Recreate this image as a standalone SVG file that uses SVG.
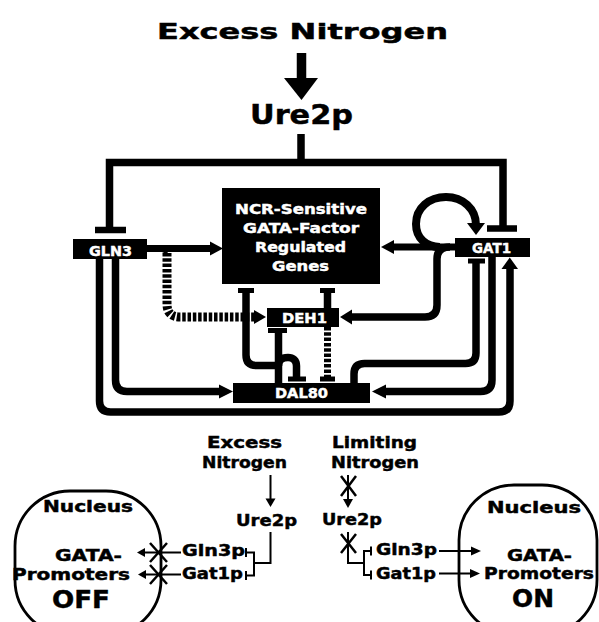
<svg xmlns="http://www.w3.org/2000/svg" width="599" height="622" viewBox="0 0 599 622">
<style>
text{font-family:"DejaVu Sans","Liberation Sans",sans-serif;font-weight:bold;text-anchor:middle;fill:#000;stroke:#000;stroke-width:0.45}
.w{fill:#fff;stroke:#fff;font-size:14px}
.box{fill:#000}
.thick{fill:none;stroke:#000;stroke-width:7.5;stroke-linejoin:round}
.sq{stroke-linejoin:miter}
.bar{fill:none;stroke:#000;stroke-width:5}
.hatch{fill:none;stroke:#000;stroke-width:9;stroke-dasharray:3.5 1.8}
.thin{fill:none;stroke:#000;stroke-width:2}
.cross{fill:none;stroke:#000;stroke-width:2.5}
.head{fill:#000}
.nuc{fill:none;stroke:#000;stroke-width:2.8}
.t15{font-size:15px}
.t16{font-size:15.5px}
.t25{font-size:25px}
</style>
<rect width="599" height="622" fill="#fff"/>

<g id="connectors">
  <!-- top -->
  <path class="thick" d="M301.5 53V80" style="stroke-width:9.5"/>
  <polygon class="head" points="284,78 318,78 301.5,100"/>
  <path class="thick sq" d="M301 134V162.5M109.5 229V162.5H503V228"/>
  <path class="bar" style="stroke-width:6.5" d="M95 230H126M487 228.5H517"/>
  <!-- GLN3 -> NCR -->
  <path class="thick" style="stroke-width:7" d="M147 248.5H212"/>
  <polygon class="head" points="210,241.5 223,248.5 210,255.5"/>
  <!-- GAT1 -> NCR -->
  <path class="thick" style="stroke-width:7" d="M455 247H393"/>
  <polygon class="head" points="394,240 381,247 394,254"/>
  <!-- GAT1 self loop -->
  <path class="thick" style="stroke-width:8" d="M440 247C426 247 416 238 416 224C416 208 429 197 446 197C463 197 476 209 476 225"/>
  <polygon class="head" points="467,223 485,223 476,235"/>
  <!-- GAT1 -> DEH1 -->
  <path class="thick" d="M450 247Q437 247 437 259V305Q437 317 425 317H351"/>
  <polygon class="head" points="352,309.5 340,317 352,324.5"/>
  <!-- GLN3 hatched -> DEH1 -->
  <path class="thick" style="stroke-width:3" d="M158 250Q167 250 167 256"/>
  <path class="hatch" d="M167 253V304Q167 317 180 317H255"/>
  <polygon class="head" points="254,310 266,317 254,324"/>
  <!-- DAL80 -| NCR genes -->
  <path class="thick" d="M246 291V355Q246 365.5 256.5 365.5H279"/>
  <path class="bar" d="M238 290.5H254"/>
  <!-- DAL80 -| DEH1 -->
  <path class="thick" d="M278.5 331V384"/>
  <path class="bar" d="M268 330.5H287"/>
  <!-- DEH1 -| DAL80 (hump) -->
  <path class="thick" d="M278.5 366C278.5 359 283 357.5 288 357.5C293 357.5 296.5 360 296.5 366V378"/>
  <path class="bar" d="M288 379H306"/>
  <!-- DEH1 -| NCR genes -->
  <path class="thick" d="M327.5 291V308"/>
  <path class="bar" d="M320 290.5H335"/>
  <!-- DEH1 hatched -| DAL80 -->
  <path class="hatch" style="stroke-width:7" d="M327.5 327V377"/>
  <path class="bar" d="M320 379H335"/>
  <!-- DAL80 -| GAT1 -->
  <path class="thick" d="M354 384V374Q354 363.5 364.5 363.5H465.5Q476 363.5 476 353V262"/>
  <path class="bar" d="M468 261H485"/>
  <!-- GAT1 -> DAL80 -->
  <path class="thick" d="M492 257V380Q492 391.5 480.5 391.5H385"/>
  <polygon class="head" points="386,384.5 372,391.5 386,398.5"/>
  <!-- GLN3 -> DAL80 -->
  <path class="thick" d="M115.5 259V380Q115.5 391.5 127 391.5H220"/>
  <polygon class="head" points="219,384.5 233,391.5 219,398.5"/>
  <!-- GLN3 -> GAT1 -->
  <path class="thick" d="M99.5 259V401Q99.5 412 110.5 412H499Q510 412 510 401V268"/>
  <polygon class="head" points="501.5,269 518,269 509.75,257.5"/>

  <!-- bottom left -->
  <path class="thin" d="M270.5 475V500"/>
  <polygon class="head" points="265.5,498.5 275.5,498.5 270.5,507"/>
  <path class="thin" d="M270.5 532V563H254M246 552.5H254V575.5H246M246 548V557M246 571V580"/>
  <path class="thin" d="M181 552.5H143M181 574.5H144"/>
  <polygon class="head" points="145,548 137,552.5 145,557"/>
  <polygon class="head" points="146,570 138,574.5 146,579"/>
  <path class="cross" d="M150 543L167 562M150 562L167 543M150 565L167 584M150 584L167 565"/>

  <!-- bottom right -->
  <path class="thin" d="M348 475V500"/>
  <polygon class="head" points="343,499 353,499 348,508"/>
  <path class="cross" d="M341 476L356 496M356 476L341 496"/>
  <path class="thin" d="M348 532V563H364M371 551H364V575H371M371 546.5V555.5M371 570.5V579.5"/>
  <path class="cross" d="M341 534L356 553M356 534L341 553"/>
  <path class="thin" d="M439 551H472M439 573.5H471"/>
  <polygon class="head" points="471,546.5 481,551 471,555.5"/>
  <polygon class="head" points="470,569 480,573.5 470,578"/>
</g>

<g id="excess-nitrogen">
  <text x="302.5" y="39" font-size="21" textLength="291" lengthAdjust="spacingAndGlyphs">Excess Nitrogen</text>
</g>
<g id="ure2p">
  <text x="301.5" y="124" font-size="27" textLength="103" lengthAdjust="spacingAndGlyphs">Ure2p</text>
</g>
<g id="ncr-genes">
  <rect class="box" x="222" y="188" width="158" height="96"/>
  <text class="w" x="301" y="213.5" textLength="132" lengthAdjust="spacingAndGlyphs">NCR-Sensitive</text>
  <text class="w" x="301" y="232.5" textLength="116" lengthAdjust="spacingAndGlyphs">GATA-Factor</text>
  <text class="w" x="300.5" y="251.7" textLength="91" lengthAdjust="spacingAndGlyphs">Regulated</text>
  <text class="w" x="300.5" y="270.5" textLength="57" lengthAdjust="spacingAndGlyphs">Genes</text>
</g>
<g id="gln3">
  <rect class="box" x="73" y="239" width="74" height="20"/>
  <text class="w" x="110.5" y="256" textLength="43" lengthAdjust="spacingAndGlyphs">GLN3</text>
</g>
<g id="gat1">
  <rect class="box" x="455" y="238" width="75" height="19"/>
  <text class="w" x="491.5" y="253" textLength="39" lengthAdjust="spacingAndGlyphs">GAT1</text>
</g>
<g id="deh1">
  <rect class="box" x="267" y="308" width="72" height="19"/>
  <text class="w" x="304.5" y="322.7" textLength="45" lengthAdjust="spacingAndGlyphs">DEH1</text>
</g>
<g id="dal80">
  <rect class="box" x="233" y="383" width="137" height="20"/>
  <text class="w" x="301.5" y="397.5" textLength="53" lengthAdjust="spacingAndGlyphs">DAL80</text>
</g>

<g id="excess-panel">
  <text class="t15" x="244.5" y="448" textLength="75" lengthAdjust="spacingAndGlyphs">Excess</text>
  <text class="t15" x="244.5" y="467.5" textLength="85" lengthAdjust="spacingAndGlyphs">Nitrogen</text>
  <text class="t15" x="266.5" y="526" textLength="61" lengthAdjust="spacingAndGlyphs">Ure2p</text>
  <text class="t15" x="213.5" y="556" textLength="63" lengthAdjust="spacingAndGlyphs">Gln3p</text>
  <text class="t15" x="212.5" y="579.3" textLength="61" lengthAdjust="spacingAndGlyphs">Gat1p</text>
</g>
<g id="nucleus-off">
  <rect class="nuc" x="15" y="491" width="146" height="144" rx="55"/>
  <text class="t16" x="88" y="512" textLength="90" lengthAdjust="spacingAndGlyphs">Nucleus</text>
  <text class="t16" x="88.5" y="561" textLength="67" lengthAdjust="spacingAndGlyphs">GATA-</text>
  <text class="t16" x="71" y="579.5" textLength="118" lengthAdjust="spacingAndGlyphs">Promoters</text>
  <text class="t25" x="81" y="608" textLength="58" lengthAdjust="spacingAndGlyphs">OFF</text>
</g>
<g id="limiting-panel">
  <text class="t15" x="374.5" y="448" textLength="85" lengthAdjust="spacingAndGlyphs">Limiting</text>
  <text class="t15" x="375" y="467.5" textLength="88" lengthAdjust="spacingAndGlyphs">Nitrogen</text>
  <text class="t15" x="352" y="525" textLength="60" lengthAdjust="spacingAndGlyphs">Ure2p</text>
  <text class="t15" x="406.5" y="555" textLength="61" lengthAdjust="spacingAndGlyphs">Gln3p</text>
  <text class="t15" x="406" y="579" textLength="60" lengthAdjust="spacingAndGlyphs">Gat1p</text>
</g>
<g id="nucleus-on">
  <rect class="nuc" x="459" y="485" width="138" height="150" rx="55"/>
  <text class="t16" x="534" y="513" textLength="94" lengthAdjust="spacingAndGlyphs">Nucleus</text>
  <text class="t16" x="539.5" y="561" textLength="65" lengthAdjust="spacingAndGlyphs">GATA-</text>
  <text class="t16" x="539" y="579" textLength="110" lengthAdjust="spacingAndGlyphs">Promoters</text>
  <text class="t25" x="533" y="607" textLength="42" lengthAdjust="spacingAndGlyphs">ON</text>
</g>
</svg>
